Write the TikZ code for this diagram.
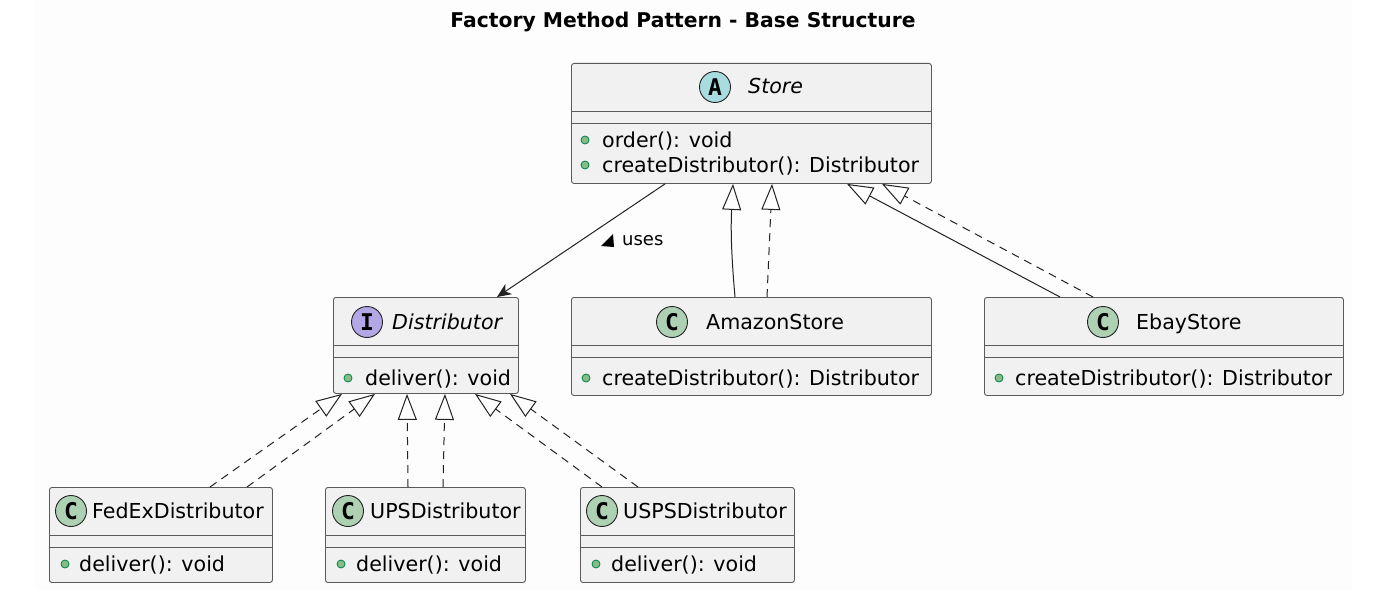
\documentclass[tikz,border=0pt]{standalone}
\usepackage{fontspec}
\setmainfont{DejaVu Sans}
\newfontfamily\markfont{DejaVu Sans Mono}
\usetikzlibrary{arrows.meta,positioning}

\definecolor{boxfill}{HTML}{F1F1F1}
\definecolor{boxline}{HTML}{5A5A5A}
\definecolor{linecol}{HTML}{222222}
\definecolor{abstractfill}{HTML}{A9DCDF}
\definecolor{interfacefill}{HTML}{B4A7E5}
\definecolor{classfill}{HTML}{ADD1B2}
\definecolor{bulletfill}{HTML}{84BE84}
\definecolor{bulletline}{HTML}{038048}

\tikzstyle{classbox} = [
        rectangle,
        rounded corners=2.5pt,
        draw=boxline,
        fill=boxfill,
        line width=0.9pt,
        inner sep=0pt,
        anchor=north west,
    ]
\tikzstyle{divider} = [draw=boxline, line width=0.9pt]
\tikzstyle{markcircle} = [
        circle,
        draw=linecol,
        line width=0.9pt,
        minimum size=31pt,
        inner sep=0pt,
        font=\markfont\bfseries\fontsize{23}{23}\selectfont,
    ]
\tikzstyle{classname} = [anchor=base west, inner sep=0pt, font=\fontsize{20.6}{24}\selectfont]
\tikzstyle{member} = [anchor=base west, inner sep=0pt, font=\fontsize{20.6}{24}\selectfont]
\tikzstyle{bullet} = [circle, draw=bulletline, fill=bulletfill, line width=0.8pt, minimum size=8pt, inner sep=0pt]
\tikzstyle{arrow} = [line width=1pt, draw=linecol, -{Stealth[length=14pt, width=12pt, inset=4pt]}]
\tikzstyle{inherit} = [line width=1pt, draw=linecol, -{Triangle[open, length=26pt, width=19pt, fill=white]}]
\tikzstyle{implement} = [inherit, dash pattern=on 8pt off 6pt]

\begin{document}
\begin{tikzpicture}[x=1pt, y=-1pt]
    \useasboundingbox (0,0) rectangle (1381,607);
    \fill[black!0.6] (35,0) rectangle (1352,590);

    \node[font=\bfseries\fontsize{20.3}{23}\selectfont] (title) at (683,22) {Factory Method Pattern - Base Structure};

    % class boxes
    \node [classbox, minimum width=360pt, minimum height=120pt] (store) at (571,63) {};
    \node [classbox, minimum width=185pt, minimum height=96pt] (dist) at (333,297) {};
    \node [classbox, minimum width=360pt, minimum height=98pt] (amazon) at (571,297) {};
    \node [classbox, minimum width=359pt, minimum height=98pt] (ebay) at (984,297) {};
    \node [classbox, minimum width=223pt, minimum height=95pt] (fedex) at (49,487) {};
    \node [classbox, minimum width=200pt, minimum height=95pt] (ups) at (325,487) {};
    \node [classbox, minimum width=214pt, minimum height=95pt] (usps) at (580,487) {};

    % compartments
    \foreach \c in {store, dist, amazon, ebay, fedex, ups, usps} {
        \draw [divider] ([yshift=-48pt]\c.north west) -- ([yshift=-48pt]\c.north east);
        \draw [divider] ([yshift=-60pt]\c.north west) -- ([yshift=-60pt]\c.north east);
    }

    % headers
    \node [markcircle, fill=abstractfill] (store-mark) at (715,87) {A};
    \node [classname] (store-name) at (748,94) {\itshape Store};
    \node [markcircle, fill=interfacefill] (dist-mark) at (367,322) {I};
    \node [classname] (dist-name) at (392,329) {\itshape Distributor};
    \node [markcircle, fill=classfill] (amazon-mark) at (672,322) {C};
    \node [classname] (amazon-name) at (706,329) {AmazonStore};
    \node [markcircle, fill=classfill] (ebay-mark) at (1103,322) {C};
    \node [classname] (ebay-name) at (1136,329) {EbayStore};
    \node [markcircle, fill=classfill] (fedex-mark) at (71,511) {C};
    \node [classname] (fedex-name) at (92,518) {FedExDistributor};
    \node [markcircle, fill=classfill] (ups-mark) at (348,511) {C};
    \node [classname] (ups-name) at (370,518) {UPSDistributor};
    \node [markcircle, fill=classfill] (usps-mark) at (602,511) {C};
    \node [classname] (usps-name) at (623,518) {USPSDistributor};

    % members
    \node [bullet] (store-b1) at (585,140) {};
    \node [member] (store-m1) at (602,147) {order(): void};
    \node [bullet] (store-b2) at (585,165) {};
    \node [member] (store-m2) at (602,172) {createDistributor(): Distributor};
    \node [bullet] (dist-b1) at (348,378) {};
    \node [member] (dist-m1) at (365,385) {deliver(): void};
    \node [bullet] (amazon-b1) at (586,378) {};
    \node [member] (amazon-m1) at (602,385) {createDistributor(): Distributor};
    \node [bullet] (ebay-b1) at (999,378) {};
    \node [member] (ebay-m1) at (1015,385) {createDistributor(): Distributor};
    \node [bullet] (fedex-b1) at (65,564) {};
    \node [member] (fedex-m1) at (79,571) {deliver(): void};
    \node [bullet] (ups-b1) at (341,564) {};
    \node [member] (ups-m1) at (356,571) {deliver(): void};
    \node [bullet] (usps-b1) at (596,564) {};
    \node [member] (usps-m1) at (611,571) {deliver(): void};

    % store uses distributor
    \draw [arrow] ([xshift=94pt]store.south west) -- ([xshift=164pt]dist.north west);
    \node [anchor=west, inner sep=0pt, font=\fontsize{18}{20}\selectfont] (uses) at (622,241) {uses};
    \fill [black] (601,246) -- (613,234) -- (614,247) -- cycle;

    % stores
    \draw [inherit] ([xshift=164pt]amazon.north west) to[bend left=4] ([xshift=162pt]store.south west);
    \draw [implement] ([xshift=196pt]amazon.north west) -- ([xshift=201pt]store.south west);
    \draw [inherit] ([xshift=76pt]ebay.north west) -- ([xshift=276pt]store.south west);
    \draw [implement] ([xshift=109pt]ebay.north west) -- ([xshift=311pt]store.south west);

    % distributors
    \draw [implement] ([xshift=161pt]fedex.north west) -- ([xshift=9pt]dist.south west);
    \draw [implement] ([xshift=198pt]fedex.north west) -- ([xshift=42pt]dist.south west);
    \draw [implement] ([xshift=83pt]ups.north west) -- ([xshift=74pt]dist.south west);
    \draw [implement] ([xshift=118pt]ups.north west) -- ([xshift=112pt]dist.south west);
    \draw [implement] ([xshift=22pt]usps.north west) -- ([xshift=142pt]dist.south west);
    \draw [implement] ([xshift=58pt]usps.north west) -- ([xshift=177pt]dist.south west);
\end{tikzpicture}
\end{document}
